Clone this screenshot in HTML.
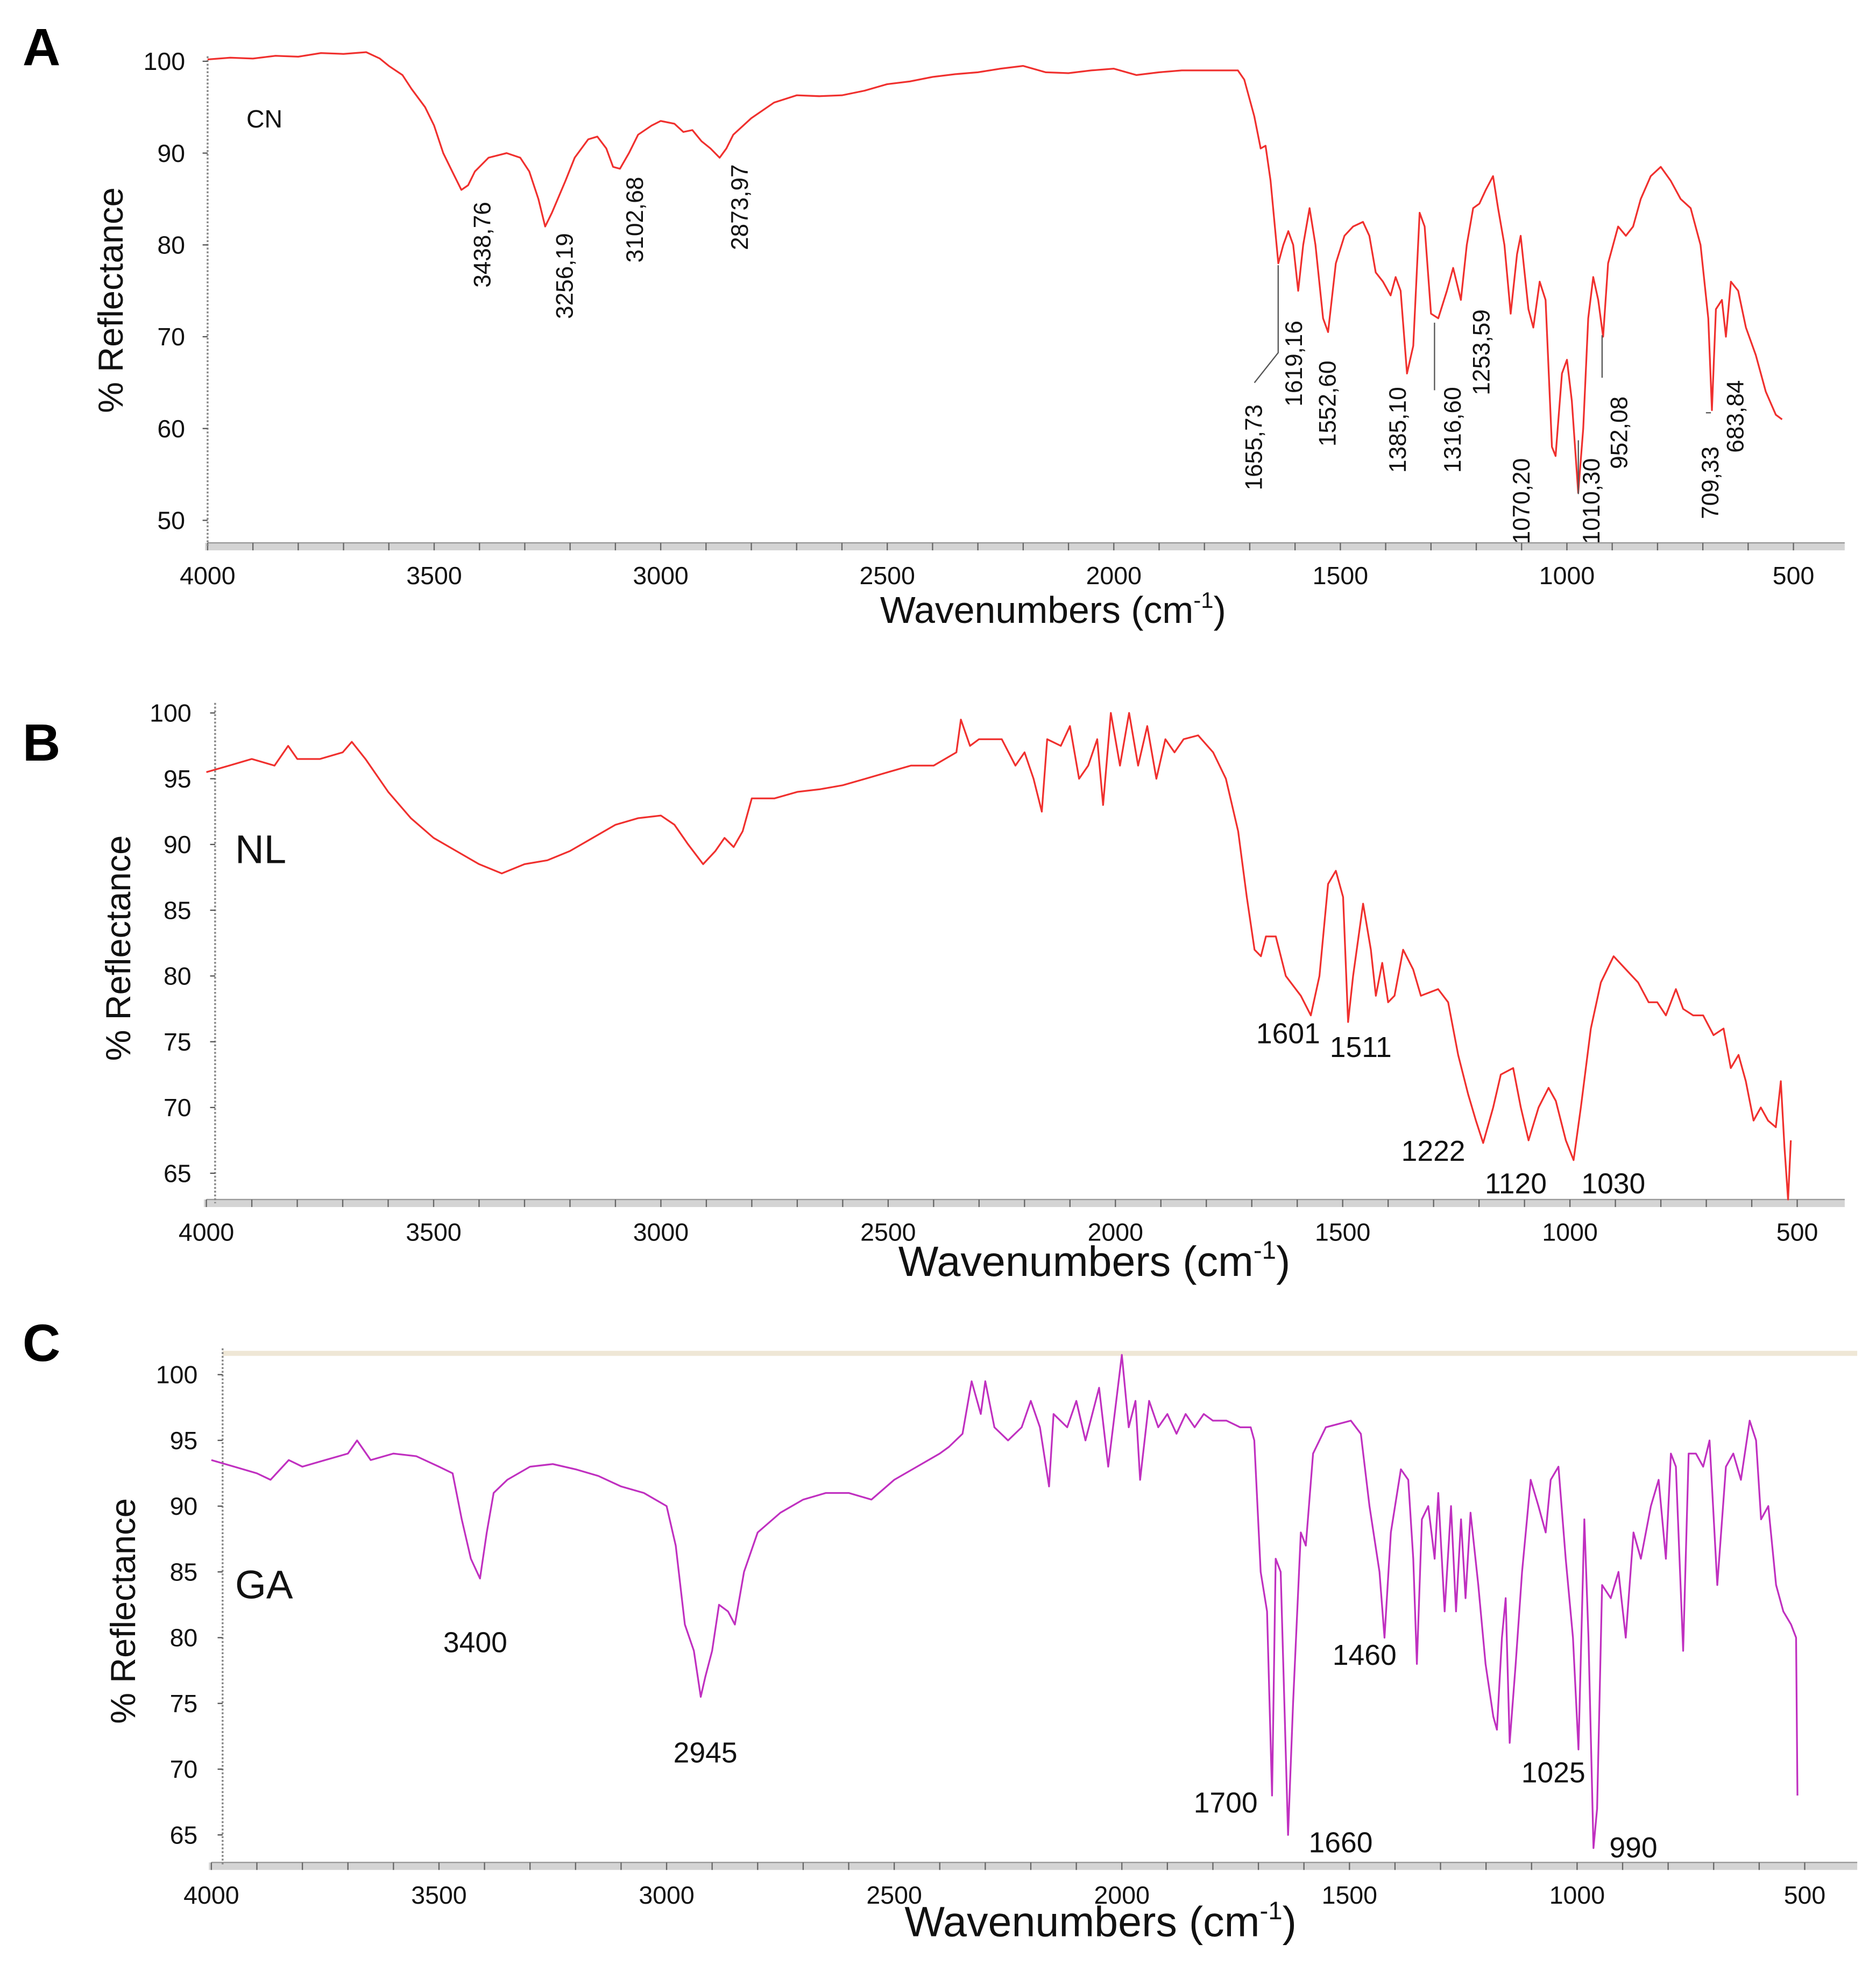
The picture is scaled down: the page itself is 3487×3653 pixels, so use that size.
<!DOCTYPE html>
<html><head><meta charset="utf-8">
<style>html,body{margin:0;padding:0;background:#fff;}svg{display:block;}text{font-family:"Liberation Sans",sans-serif;}</style>
</head><body>
<svg id="fig" width="3487" height="3653" viewBox="0 0 1500 1571" preserveAspectRatio="none" xmlns="http://www.w3.org/2000/svg">
<rect width="1500" height="1571" fill="#fff"/>
</svg>
<script>
const xTicks = [4000, 3500, 3000, 2500, 2000, 1500, 1000, 500];
const yTicksA = [100, 90, 80, 70, 60, 50];
const yTicksB = [100, 95, 90, 85, 80, 75, 70, 65];
const yTicksC = [100, 95, 90, 85, 80, 75, 70, 65];
const cnData = [[4000,100.2],[3950,100.4],[3900,100.3],[3850,100.6],[3800,100.5],[3750,100.9],[3700,100.8],[3650,101],[3620,100.3],[3600,99.5],[3570,98.5],[3550,97],[3520,95],[3500,93],[3480,90],[3460,88],[3440,86],[3425,86.5],[3410,88],[3380,89.5],[3340,90],[3310,89.5],[3290,88],[3270,85],[3255,82],[3240,83.5],[3210,87],[3190,89.5],[3160,91.5],[3140,91.8],[3120,90.5],[3105,88.5],[3090,88.3],[3070,90],[3050,92],[3020,93],[3000,93.5],[2970,93.2],[2950,92.3],[2930,92.5],[2910,91.3],[2890,90.5],[2870,89.5],[2855,90.5],[2840,92],[2800,93.8],[2750,95.5],[2700,96.3],[2650,96.2],[2600,96.3],[2550,96.8],[2500,97.5],[2450,97.8],[2400,98.3],[2350,98.6],[2300,98.8],[2250,99.2],[2200,99.5],[2150,98.8],[2100,98.7],[2050,99],[2000,99.2],[1950,98.5],[1900,98.8],[1850,99],[1800,99],[1760,99],[1726,99],[1712,98],[1690,94],[1676,90.5],[1665,90.8],[1654,87],[1637,78],[1626,80],[1615,81.5],[1604,80],[1593,75],[1582,80],[1568,84],[1555,80],[1538,72],[1527,70.5],[1510,78],[1491,81],[1472,82],[1450,82.5],[1436,81],[1422,77],[1406,76],[1389,74.5],[1378,76.5],[1367,75],[1353,66],[1339,69],[1325,83.5],[1314,82],[1300,72.5],[1284,72],[1265,75],[1251,77.5],[1234,74],[1221,80],[1207,84],[1193,84.5],[1179,86],[1163,87.5],[1152,84],[1138,80],[1124,72.5],[1110,79],[1102,81],[1085,73],[1074,71],[1060,76],[1047,74],[1033,58],[1025,57],[1011,66],[1000,67.5],[989,63],[975,53],[964,60],[953,72],[942,76.5],[931,74],[920,70],[909,78],[887,82],[870,81],[854,82],[837,85],[815,87.5],[793,88.5],[771,87],[749,85],[727,84],[705,80],[688,72],[680,62],[671,73],[658,74],[649,70],[638,76],[622,75],[605,71],[583,68],[561,64],[539,61.5],[525,61]];
const nlData = [[4000,95.5],[3950,96],[3900,96.5],[3850,96],[3820,97.5],[3800,96.5],[3750,96.5],[3700,97],[3680,97.8],[3650,96.5],[3600,94],[3550,92],[3500,90.5],[3450,89.5],[3400,88.5],[3350,87.8],[3300,88.5],[3250,88.8],[3200,89.5],[3150,90.5],[3100,91.5],[3050,92],[3000,92.2],[2970,91.5],[2940,90],[2907,88.5],[2880,89.5],[2860,90.5],[2840,89.8],[2820,91],[2800,93.5],[2750,93.5],[2700,94],[2650,94.2],[2600,94.5],[2550,95],[2500,95.5],[2450,96],[2400,96],[2350,97],[2340,99.5],[2320,97.5],[2300,98],[2250,98],[2220,96],[2200,97],[2180,95],[2162,92.5],[2150,98],[2120,97.5],[2100,99],[2080,95],[2060,96],[2040,98],[2027,93],[2010,100],[1990,96],[1970,100],[1950,96],[1930,99],[1910,95],[1890,98],[1870,97],[1850,98],[1818,98.3],[1785,97],[1757,95],[1730,91],[1711,86],[1694,82],[1680,81.5],[1669,83],[1647,83],[1625,80],[1592,78.5],[1570,77],[1551,80],[1532,87],[1515,88],[1499,86],[1488,76.5],[1477,80],[1455,85.5],[1438,82],[1427,78.5],[1413,81],[1400,78],[1386,78.5],[1367,82],[1345,80.5],[1328,78.5],[1290,79],[1268,78],[1246,74],[1224,71],[1207,69],[1191,67.3],[1169,70],[1152,72.5],[1125,73],[1108,70],[1091,67.5],[1069,70],[1047,71.5],[1031,70.5],[1009,67.5],[992,66],[976,70],[954,76],[932,79.5],[904,81.5],[877,80.5],[850,79.5],[827,78],[808,78],[789,77],[767,79],[751,77.5],[729,77],[707,77],[684,75.5],[662,76],[646,73],[629,74],[613,72],[596,69],[580,70],[564,69],[547,68.5],[536,72],[528,67],[520,63],[514,67.5]];
const gaData = [[4000,93.5],[3950,93],[3900,92.5],[3870,92],[3830,93.5],[3800,93],[3750,93.5],[3700,94],[3680,95],[3650,93.5],[3600,94],[3550,93.8],[3500,93],[3470,92.5],[3450,89],[3430,86],[3410,84.5],[3395,88],[3380,91],[3350,92],[3300,93],[3250,93.2],[3200,92.8],[3150,92.3],[3100,91.5],[3050,91],[3000,90],[2980,87],[2960,81],[2940,79],[2925,75.5],[2915,77],[2900,79],[2885,82.5],[2865,82],[2850,81],[2830,85],[2800,88],[2750,89.5],[2700,90.5],[2650,91],[2600,91],[2550,90.5],[2500,92],[2450,93],[2400,94],[2380,94.5],[2350,95.5],[2330,99.5],[2310,97],[2300,99.5],[2280,96],[2250,95],[2220,96],[2200,98],[2180,96],[2160,91.5],[2150,97],[2120,96],[2100,98],[2080,95],[2050,99],[2030,93],[2000,101.5],[1985,96],[1970,98],[1960,92],[1940,98],[1920,96],[1900,97],[1880,95.5],[1860,97],[1840,96],[1820,97],[1800,96.5],[1770,96.5],[1740,96],[1717,96],[1709,95],[1695,85],[1681,82],[1670,68],[1662,86],[1651,85],[1635,65],[1624,75],[1607,88],[1596,87],[1580,94],[1552,96],[1497,96.5],[1475,95.5],[1456,90],[1434,85],[1423,80],[1409,88],[1387,92.8],[1371,92],[1360,86],[1352,78],[1341,89],[1327,90],[1313,86],[1305,91],[1291,82],[1277,90],[1266,82],[1255,89],[1245,83],[1234,89.5],[1217,84],[1201,78],[1184,74],[1176,73],[1165,80],[1157,83],[1148,72],[1135,78],[1121,85],[1102,92],[1085,90],[1069,88],[1058,92],[1041,93],[1025,86],[1009,80],[997,71.5],[984,89],[975,80],[964,64],[956,67],[945,84],[926,83],[909,85],[893,80],[876,88],[860,86],[838,90],[821,92],[805,86],[794,94],[783,93],[767,79],[755,94],[739,94],[723,93],[709,95],[692,84],[673,93],[657,94],[640,92],[621,96.5],[607,95],[596,89],[580,90],[563,84],[547,82],[530,81],[519,80],[516,68]];

const NS = 'http://www.w3.org/2000/svg';
const svg = document.getElementById('fig');
function mk(tag, attrs, parent) {
  const e = document.createElementNS(NS, tag);
  for (const k in attrs) e.setAttribute(k, attrs[k]);
  (parent || svg).appendChild(e);
  return e;
}
function txt(s, attrs, parent) { const t = mk('text', attrs, parent); t.textContent = s; return t; }

function panel(cfg) {
  const g = mk('g', {});
  
  
  const xs = w => cfg.x0 + (4000 - w) * (cfg.x1 - cfg.x0) / 3500;
  const ys = v => cfg.yA + (cfg.vA - v) * (cfg.yB - cfg.yA) / (cfg.vA - cfg.vB);
  if (cfg.topLine) {
    const tl = mk('line', {x1: cfg.ax, y1: cfg.topLine, x2: cfg.axEnd, y2: cfg.topLine, stroke: '#efe7d6', 'stroke-width': 4}, g);
    
    
  }
  // x axis band
  const band = mk('rect', {x: cfg.x0 - 2, y: cfg.base - 3, width: cfg.axEnd - cfg.x0 + 2, height: 6, fill: '#d4d4d4'}, g);
  
  
  mk('line', {x1: cfg.x0, y1: cfg.base - 3, x2: cfg.axEnd, y2: cfg.base - 3, stroke: '#999', 'stroke-width': 1}, g);
  for (let w = 4000; w >= 500; w -= 100) {
    mk('line', {x1: xs(w), y1: cfg.base - 3, x2: xs(w), y2: cfg.base + 3, stroke: '#666', 'stroke-width': 1}, g);
  }
  const ya = mk('line', {x1: cfg.ax, y1: cfg.axTop, x2: cfg.ax, y2: cfg.base, stroke: '#888', 'stroke-width': 1.5, 'stroke-dasharray': '1.5 1.5'}, g);
  
  
  xTicks.forEach(w => {
    const t = txt(String(w), {x: xs(w), y: cfg.base + 30, 'text-anchor': 'middle', 'font-size': 20, fill: '#111'}, g);
    
    
  });
  cfg.yTicks.forEach(v => {
    const t = txt(String(v), {x: cfg.ylx, y: ys(v) + 7, 'text-anchor': 'end', 'font-size': 20, fill: '#111'}, g);
    
    
    mk('line', {x1: cfg.ax - 4, y1: ys(v), x2: cfg.ax, y2: ys(v), stroke: '#555', 'stroke-width': 1}, g);
  });
  const d = cfg.data.map((p, i) => (i ? 'L' : 'M') + xs(p[0]).toFixed(1) + ' ' + ys(p[1]).toFixed(1)).join(' ');
  const path = mk('path', {d: d, fill: 'none', stroke: cfg.color, 'stroke-width': 1.4, 'stroke-linejoin': 'round'}, g);
  
  
  const xt = txt('Wavenumbers (cm', {x: cfg.xtx, y: cfg.xty, 'text-anchor': 'middle', 'font-size': cfg.xtSize, fill: '#111'}, g);
  const sup = mk('tspan', {dy: -cfg.xtSize * 0.4, 'font-size': cfg.xtSize * 0.6}, xt); sup.textContent = '-1';
  const cl = mk('tspan', {dy: cfg.xtSize * 0.4}, xt); cl.textContent = ')';
  
  
  const yt = txt('% Reflectance', {x: 0, y: 0, 'text-anchor': 'middle', 'font-size': 28, fill: '#111', transform: `translate(${cfg.ytx},${cfg.yty}) rotate(-90)`}, g);
  
  
  const pl = txt(cfg.letter, {x: 18, y: cfg.letterY, 'font-size': 42, 'font-weight': 'bold', fill: '#000'}, g);
  
  
  const sl = txt(cfg.sample, {x: cfg.sx, y: cfg.sy, 'font-size': cfg.sSize, fill: '#111'}, g);
  
  
  return {g, xs, ys};
}

const A = panel({name: 'panel-a', x0: 166, x1: 1434, yA: 49, vA: 100, yB: 416, vB: 50, base: 437, ax: 166, axTop: 45, axEnd: 1475, ylx: 148, yTicks: yTicksA, data: cnData, color: '#f0302e', seriesName: 'cn-spectrum', xtx: 842, xty: 498, xtSize: 30, ytx: 98, yty: 240, letter: 'A', letterY: 52, sample: 'CN', sx: 197, sy: 102, sSize: 20});
const B = panel({name: 'panel-b', x0: 165, x1: 1437, yA: 570, vA: 100, yB: 938, vB: 65, base: 962, ax: 172, axTop: 562, axEnd: 1475, ylx: 153, yTicks: yTicksB, data: nlData, color: '#f0302e', seriesName: 'nl-spectrum', xtx: 875, xty: 1020, xtSize: 34, ytx: 104, yty: 758, letter: 'B', letterY: 608, sample: 'NL', sx: 188, sy: 690, sSize: 32});
const C = panel({name: 'panel-c', x0: 169, x1: 1443, yA: 1099, vA: 100, yB: 1467, vB: 65, base: 1492, ax: 178, axTop: 1078, axEnd: 1485, ylx: 158, yTicks: yTicksC, data: gaData, color: '#c030c0', seriesName: 'ga-spectrum', xtx: 880, xty: 1548, xtSize: 34, ytx: 108, yty: 1288, letter: 'C', letterY: 1088, sample: 'GA', sx: 188, sy: 1278, sSize: 32, topLine: 1082});

// Panel A rotated peak labels
const peakLabelsA = ['3438,76','3256,19','3102,68','2873,97','1655,73','1619,16','1552,60','1385,10','1316,60','1253,59','1070,20','1010,30','952,08','709,33','683,84'];
const peakPos = [[392,230],[458,255],[514,210],[598,200],[1009,392],[1041,325],[1068,357],[1124,378],[1168,378],[1191,316],[1223,435],[1279,435],[1301,375],[1374,415],[1394,362]];
peakLabelsA.forEach((s, i) => {
  const p = peakPos[i];
  const t = txt(s, {x: 0, y: 0, 'font-size': 19, fill: '#111', transform: `translate(${p[0]},${p[1]}) rotate(-90)`}, A.g);
  
  
});
const leaders = [[1022,212,1022,282,1003,306],[1147,258,1147,312],[1281,268,1281,302],[1368,330,1364,330],[1262,395,1262,352]];
leaders.forEach(l => {
  let d = 'M' + l[0] + ' ' + l[1];
  for (let k = 2; k < l.length; k += 2) d += ' L' + l[k] + ' ' + l[k + 1];
  const ln = mk('path', {d: d, stroke: '#555', 'stroke-width': 1, fill: 'none'}, A.g);
  
  
});

const labelsB = [['1601',1030,834],['1511',1088,845],['1222',1146,928],['1120',1212,954],['1030',1290,954]];
labelsB.forEach(l => {
  const t = txt(l[0], {x: l[1], y: l[2], 'text-anchor': 'middle', 'font-size': 23, fill: '#111'}, B.g);
  
  
});
const labelsC = [['3400',380,1321],['2945',564,1409],['1700',980,1449],['1660',1072,1481],['1460',1091,1331],['1025',1242,1425],['990',1306,1485]];
labelsC.forEach(l => {
  const t = txt(l[0], {x: l[1], y: l[2], 'text-anchor': 'middle', 'font-size': 23, fill: '#111'}, C.g);
  
  
});
</script>
</body></html>
